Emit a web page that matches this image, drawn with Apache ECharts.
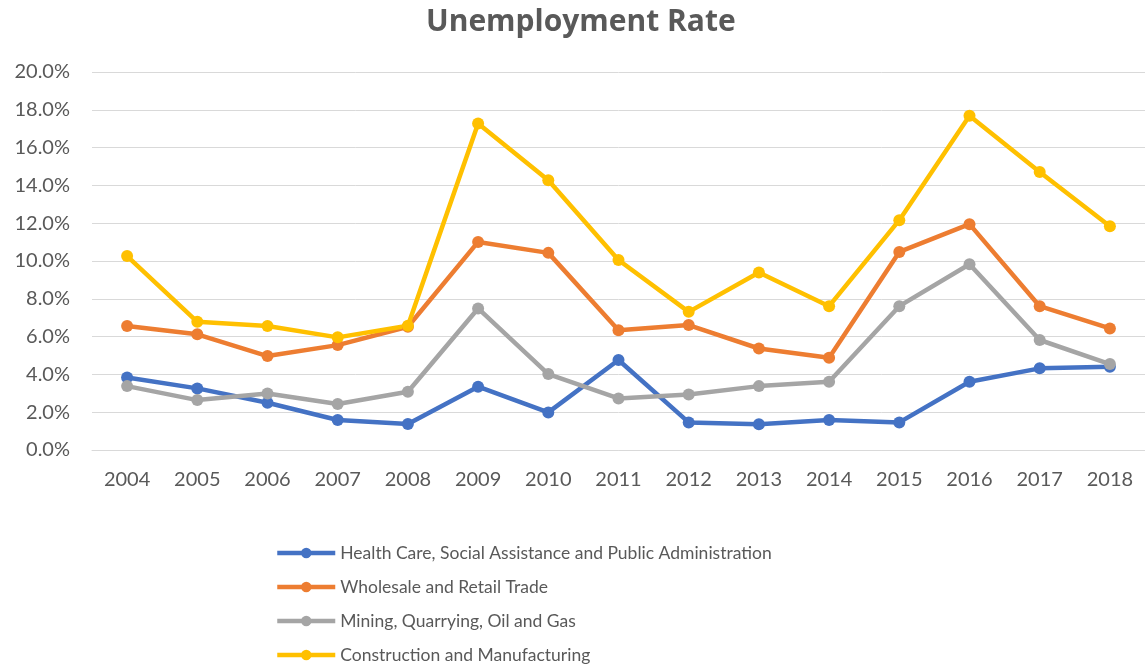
<!DOCTYPE html>
<html>
<head>
<meta charset="utf-8">
<title>Unemployment Rate</title>
<script src="https://cdn.jsdelivr.net/npm/echarts@6/dist/echarts.min.js"></script>
<style>
html,body{margin:0;padding:0;background:#fff;}
#chart{width:1145px;height:669px;}
</style>
</head>
<body>
<div id="chart"></div>
<script>
var years = ['2004','2005','2006','2007','2008','2009','2010','2011','2012','2013','2014','2015','2016','2017','2018'];
var seriesNames = ['Health Care, Social Assistance and Public Administration','Wholesale and Retail Trade','Mining, Quarrying, Oil and Gas','Construction and Manufacturing'];
var healthCare   = [3.84, 3.26, 2.50, 1.59, 1.37, 3.35, 1.99, 4.76, 1.46, 1.36, 1.59, 1.46, 3.61, 4.32, 4.41];
var wholesale    = [6.56, 6.12, 4.97, 5.55, 6.52, 11.01, 10.43, 6.34, 6.61, 5.37, 4.88, 10.48, 11.95, 7.61, 6.43];
var mining       = [3.38, 2.64, 2.99, 2.43, 3.08, 7.49, 4.02, 2.73, 2.94, 3.38, 3.61, 7.61, 9.83, 5.82, 4.55];
var construction = [10.26, 6.78, 6.56, 5.96, 6.57, 17.27, 14.27, 10.05, 7.31, 9.39, 7.61, 12.16, 17.68, 14.71, 11.84];
var colors = ['#4472C4','#ED7D31','#A5A5A5','#FFC000'];
var yTicks = {min:0, max:20, step:2};

var textColor = '#595959';
var font = 'Lato, "Open Sans", sans-serif';

function lineSeries(name, data, color){
	return {
		name: name,
		type: 'line',
		data: data,
		symbol: 'circle',
		symbolSize: 12,
		lineStyle: {width: 4.5, color: color},
		itemStyle: {color: color},
		emphasis: {disabled: true}
	};
}

var myChart = echarts.init(document.getElementById('chart'), null, {renderer:'canvas'});
var option = {
	animation: false,
	color: colors,
	title: {
		text: 'Unemployment Rate',
		left: 421,
		top: 2,
		textStyle: {fontFamily: '"Open Sans", sans-serif', fontSize: 30, fontWeight: 'bold', color: textColor}
	},
	grid: {left: 92, top: 72, width: 1060, height: 378},
	legend: {
		orient: 'vertical',
		left: 275,
		top: 543,
		padding: 0,
		height: 126,
		itemWidth: 58,
		itemHeight: 13,
		itemGap: 14,
		data: seriesNames,
		lineStyle: {width: 4.5},
		textStyle: {fontFamily: font, fontSize: 17.5, color: textColor, lineHeight: 20}
	},
	xAxis: {
		type: 'category',
		data: years,
		boundaryGap: true,
		axisLine: {lineStyle: {color: '#d9d9d9', width: 1}},
		axisTick: {show: false},
		axisLabel: {fontFamily: font, fontSize: 20, color: textColor, margin: 20}
	},
	yAxis: {
		type: 'value',
		min: yTicks.min,
		max: yTicks.max,
		interval: yTicks.step,
		axisLine: {show: false},
		axisTick: {show: false},
		splitLine: {lineStyle: {color: '#d9d9d9', width: 1}},
		axisLabel: {
			fontFamily: font, fontSize: 20, color: textColor, margin: 22,
			formatter: function(v){ return v.toFixed(1) + '%'; }
		}
	},
	series: [
		lineSeries(seriesNames[0], healthCare, colors[0]),
		lineSeries(seriesNames[1], wholesale, colors[1]),
		lineSeries(seriesNames[2], mining, colors[2]),
		lineSeries(seriesNames[3], construction, colors[3])
	]
};
myChart.setOption(option);
</script>
</body>
</html>
